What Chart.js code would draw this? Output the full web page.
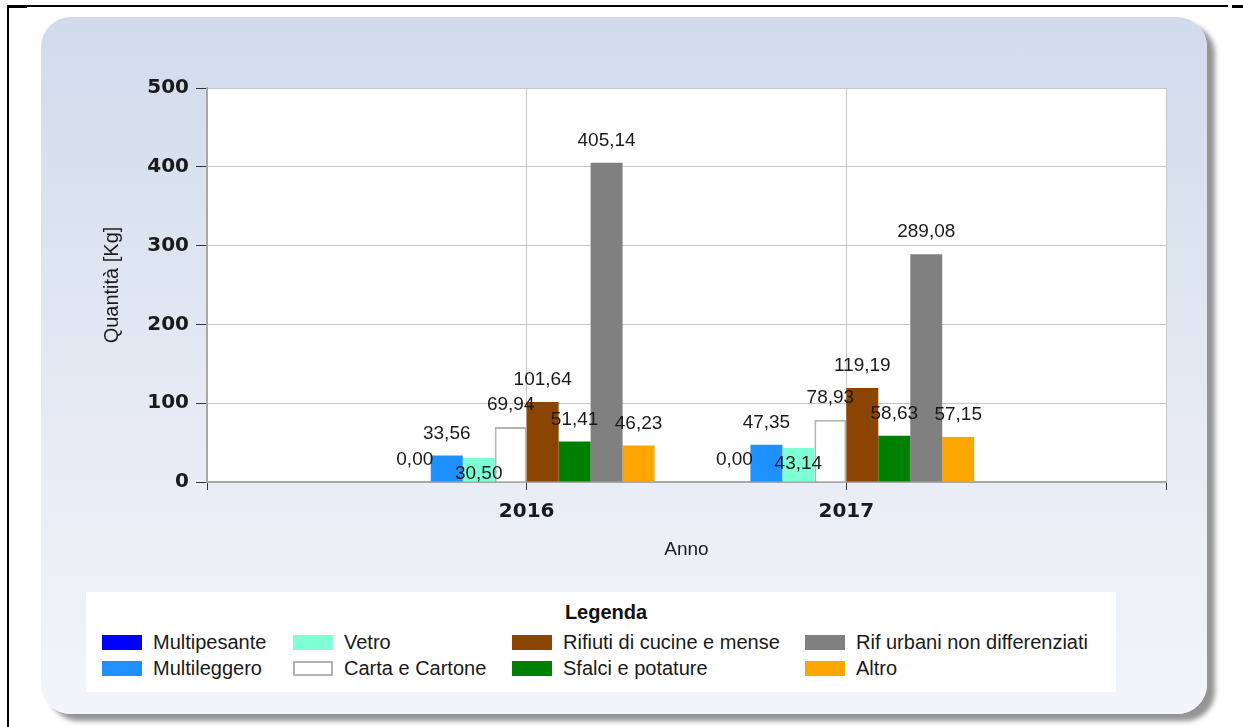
<!DOCTYPE html>
<html lang="it">
<head>
<meta charset="utf-8">
<title>Quantità rifiuti per anno</title>
<script src="https://cdn.jsdelivr.net/npm/chart.js@4.4.1/dist/chart.umd.min.js"></script>
<style>
  html, body { margin: 0; padding: 0; background: #fff; }
  body { width: 1243px; height: 727px; position: relative; overflow: hidden; font-family: "Liberation Sans", Arial, sans-serif; }
  .linea { position: absolute; background: #000; }
  .pannello {
    position: absolute; left: 41px; top: 17px; width: 1166px; height: 697px;
    border-radius: 30px;
    background: linear-gradient(#d1dbec 0%, #d9e2ef 25%, #e3e9f3 50%, #ebeff6 75%, #f2f5f9 100%);
    box-shadow: 8px 7px 5px rgba(90, 90, 90, 0.65);
  }
  #grafico { position: absolute; left: 0; top: 0; }
  .legenda {
    position: absolute; left: 86px; top: 592px; width: 1030px; height: 100px;
    background: #fff;
  }
  .legenda .titolo {
    position: absolute; left: 0; width: 1040px; top: 9px; text-align: center;
    font-weight: bold; font-size: 20px; color: #111;
  }
  .voce { position: absolute; height: 20px; display: flex; align-items: center; font-size: 20px; color: #1a1a1a; white-space: nowrap; }
  .voce .campione { width: 40px; height: 15px; box-sizing: border-box; margin-right: 11px; }
</style>
</head>
<body>
<div class="linea" style="left:7px; top:5px; width:1221px; height:2px;"></div>
<div class="linea" style="left:7px; top:5px; width:20px; height:3px;"></div>
<div class="linea" style="left:1232px; top:5px; width:11px; height:3px;"></div>
<div class="linea" style="left:7px; top:5px; width:2px; height:722px;"></div>
<div class="pannello"></div>
<canvas id="grafico" width="1243" height="570"></canvas>
<div class="legenda" id="legenda"><div class="titolo">Legenda</div></div>
<script>
// anni sull'asse x (le due voci vuote servono solo da bordo)
const anni = ['', '2016', '2017', ''];

const multipesante = [null, 0.00, 0.00, null];
const multileggero = [null, 33.56, 47.35, null];
const vetro = [null, 30.50, 43.14, null];
const cartaCartone = [null, 69.94, 78.93, null];
const rifiutiCucine = [null, 101.64, 119.19, null];
const sfalciPotature = [null, 51.41, 58.63, null];
const rifUrbani = [null, 405.14, 289.08, null];
const altro = [null, 46.23, 57.15, null];

const valoriAsseY = [0, 100, 200, 300, 400, 500];

const serie = [
  { label: 'Multipesante', data: multipesante, backgroundColor: '#0000ff' },
  { label: 'Multileggero', data: multileggero, backgroundColor: '#1e90ff' },
  { label: 'Vetro', data: vetro, backgroundColor: '#7fffd4' },
  { label: 'Carta e Cartone', data: cartaCartone, backgroundColor: '#ffffff', borderColor: '#b4b4b4', borderWidth: 2 },
  { label: 'Rifiuti di cucine e mense', data: rifiutiCucine, backgroundColor: '#8b4500' },
  { label: 'Sfalci e potature', data: sfalciPotature, backgroundColor: '#008000' },
  { label: 'Rif urbani non differenziati', data: rifUrbani, backgroundColor: '#808080' },
  { label: 'Altro', data: altro, backgroundColor: '#ffa500' }
];

// sfondo bianco dell'area del grafico
const sfondoArea = {
  id: 'sfondoArea',
  beforeDraw(chart) {
    const { ctx, chartArea: a } = chart;
    ctx.save();
    ctx.fillStyle = '#ffffff';
    ctx.fillRect(a.left, a.top, a.right - a.left, a.bottom - a.top);
    ctx.restore();
  }
};

// valori sopra le barre; se due etichette si toccano la seconda va sotto la cima
const etichetteValori = {
  id: 'etichetteValori',
  afterDatasetsDraw(chart) {
    const ctx = chart.ctx;
    ctx.save();
    ctx.font = '19px "Liberation Sans", Arial, sans-serif';
    ctx.fillStyle = '#1a1a1a';
    ctx.textAlign = 'center';
    ctx.textBaseline = 'middle';
    chart.data.labels.forEach((_, i) => {
      const occupate = [];
      chart.data.datasets.forEach((ds, d) => {
        const v = ds.data[i];
        if (v === null || v === undefined) return;
        const bar = chart.getDatasetMeta(d).data[i];
        const testo = v.toFixed(2).replace('.', ',');
        const w = ctx.measureText(testo).width;
        let y = bar.y - 22;
        const tocca = occupate.some(b => Math.abs(b.x - bar.x) < (b.w + w) / 2 && Math.abs(b.y - y) < 16);
        if (tocca) y = bar.y + 16;
        occupate.push({ x: bar.x, y, w });
        ctx.fillText(testo, bar.x, y);
      });
    });
    ctx.restore();
  }
};

const grafico = new Chart(document.getElementById('grafico'), {
  type: 'bar',
  data: {
    labels: anni,
    datasets: serie.map(s => Object.assign({ borderWidth: 0, borderSkipped: 'bottom' }, s))
  },
  options: {
    responsive: false,
    animation: false,
    categoryPercentage: 0.8,
    barPercentage: 1.0,
    layout: { padding: { left: 100, top: 88, right: 77, bottom: 0 } },
    plugins: {
      legend: { display: false },
      tooltip: { enabled: false }
    },
    scales: {
      x: {
        offset: false,
        grid: { offset: false, color: '#c6c6c6', tickColor: '#333', tickLength: 8, lineWidth: 1 },
        border: { color: '#a8a8a8', width: 2 },
        ticks: {
          color: '#1a1a1a', padding: 10, maxRotation: 0, autoSkip: false,
          font: { family: '"DejaVu Sans", sans-serif', size: 20, weight: 'bold', lineHeight: 1.2 }
        },
        title: {
          display: true, text: 'Anno', color: '#1a1a1a',
          font: { family: '"Liberation Sans", Arial, sans-serif', size: 19, lineHeight: 1.15 },
          padding: { top: 0, bottom: 9 }
        },
        afterFit(scale) { scale.height = 88; }
      },
      y: {
        min: 0,
        max: 500,
        afterBuildTicks(scale) { scale.ticks = valoriAsseY.map(v => ({ value: v })); },
        grid: { color: '#c6c6c6', tickColor: '#333', tickLength: 11, lineWidth: 1 },
        border: { color: '#a8a8a8', width: 2 },
        ticks: {
          color: '#1a1a1a', padding: 7,
          font: { family: '"DejaVu Sans", sans-serif', size: 20, weight: 'bold', lineHeight: 1.2 }
        },
        title: {
          display: true, text: 'Quantità [Kg]', color: '#1a1a1a',
          font: { family: '"Liberation Sans", Arial, sans-serif', size: 20, lineHeight: 1.15 },
          padding: { top: 1, bottom: 0 }
        },
        afterFit(scale) { scale.width = 107; }
      }
    }
  },
  plugins: [sfondoArea, etichetteValori]
});

// legenda in quattro colonne da due righe, costruita dalle serie del grafico
const colonneX = [16, 207, 426, 719];
const righeY = [40, 66];
const legenda = document.getElementById('legenda');
grafico.data.datasets.forEach((ds, i) => {
  const voce = document.createElement('div');
  voce.className = 'voce';
  voce.style.left = colonneX[Math.floor(i / 2)] + 'px';
  voce.style.top = righeY[i % 2] + 'px';
  const campione = document.createElement('span');
  campione.className = 'campione';
  campione.style.background = ds.backgroundColor;
  if (ds.borderColor) campione.style.border = '2px solid ' + ds.borderColor;
  const testo = document.createElement('span');
  testo.textContent = ds.label;
  voce.appendChild(campione);
  voce.appendChild(testo);
  legenda.appendChild(voce);
});
</script>
</body>
</html>
